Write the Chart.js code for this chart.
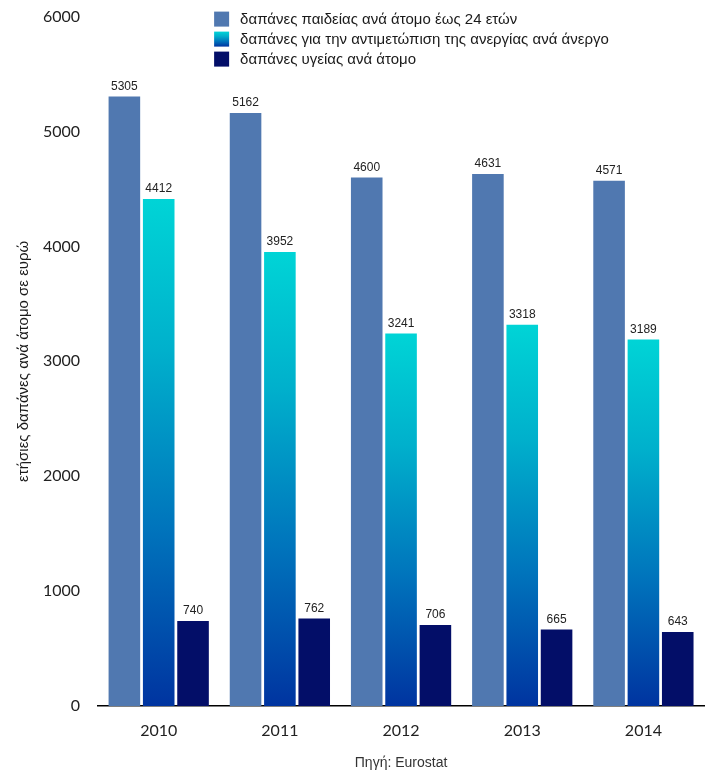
<!DOCTYPE html>
<html>
<head>
<meta charset="utf-8">
<script src="https://cdn.jsdelivr.net/npm/chart.js@4.4.1/dist/chart.umd.min.js"></script>
<style>
  html, body { margin: 0; padding: 0; background: #fff; }
  #wrap { width: 714px; height: 780px; position: relative; }
</style>
</head>
<body>
<div id="wrap"><canvas id="spendChart"></canvas></div>
<script>
const years = ['2010', '2011', '2012', '2013', '2014'];
const educationPerPerson = [5305, 5162, 4600, 4631, 4571];
const unemploymentPerUnemployed = [4412, 3952, 3241, 3318, 3189];
const healthPerPerson = [740, 762, 706, 665, 643];
const yTicks = [0, 1000, 2000, 3000, 4000, 5000, 6000];

const seriesNames = [
  'δαπάνες παιδείας ανά άτομο έως 24 ετών',
  'δαπάνες για την αντιμετώπιση της ανεργίας ανά άνεργο',
  'δαπάνες υγείας ανά άτομο'
];

const tickFont = "Lato, 'Liberation Sans', sans-serif";
const textFont = "'Liberation Sans', Arial, sans-serif";

function cyanBlue(ctx, top, bottom) {
  const g = ctx.createLinearGradient(0, top, 0, bottom);
  g.addColorStop(0, '#00d4d6');
  g.addColorStop(0.3, '#00b0cc');
  g.addColorStop(0.65, '#0074bc');
  g.addColorStop(1, '#0034a0');
  return g;
}

// gradient per bar: cyan at the top, deep blue at the base
function barGradient(context) {
  const chart = context.chart;
  if (!chart.chartArea || context.type !== 'data') return '#0090c8';
  const y = chart.scales.y;
  return cyanBlue(chart.ctx, y.getPixelForValue(context.raw), y.getPixelForValue(0));
}

// values above the bars
const valueLabels = {
  id: 'valueLabels',
  afterDatasetsDraw(chart) {
    const ctx = chart.ctx;
    ctx.save();
    ctx.font = '12px ' + textFont;
    ctx.fillStyle = '#222';
    ctx.textAlign = 'center';
    ctx.textBaseline = 'bottom';
    chart.data.datasets.forEach((ds, i) => {
      chart.getDatasetMeta(i).data.forEach((bar, j) => {
        ctx.fillText(ds.data[j], bar.x, bar.y - 4);
      });
    });
    ctx.restore();
  }
};

// legend drawn over the plot, top middle
const plotLegend = {
  id: 'plotLegend',
  afterDraw(chart) {
    const ctx = chart.ctx;
    const x0 = chart.chartArea.left + 116;
    const y0 = chart.chartArea.top - 5;
    ctx.save();
    ctx.font = '15px ' + textFont;
    ctx.textBaseline = 'middle';
    ctx.textAlign = 'left';
    chart.data.datasets.forEach((ds, i) => {
      const top = y0 + i * 20;
      ctx.fillStyle = i === 1 ? cyanBlue(ctx, top, top + 15) : ds.backgroundColor;
      ctx.fillRect(x0, top, 15, 15);
      ctx.fillStyle = '#1a1a1a';
      ctx.fillText(ds.label, x0 + 26, top + 8);
    });
    ctx.restore();
  }
};

new Chart(document.getElementById('spendChart'), {
  type: 'bar',
  data: {
    labels: years,
    datasets: [
      { label: seriesNames[0], data: educationPerPerson, backgroundColor: '#5078b0' },
      { label: seriesNames[1], data: unemploymentPerUnemployed, backgroundColor: barGradient },
      { label: seriesNames[2], data: healthPerPerson, backgroundColor: '#030e68' }
    ]
  },
  options: {
    responsive: true,
    maintainAspectRatio: false,
    animation: false,
    categoryPercentage: 0.85,
    barPercentage: 0.92,
    layout: { padding: { top: 0, right: 10, left: 15, bottom: 8 } },
    plugins: {
      legend: { display: false },
      tooltip: { enabled: false }
    },
    scales: {
      x: {
        grid: { display: false, drawTicks: false },
        border: { display: true, color: '#000', width: 1.5 },
        ticks: { font: { family: tickFont, size: 16 }, color: '#222', padding: 15 },
        title: {
          display: true,
          text: 'Πηγή: Eurostat',
          font: { family: textFont, size: 14 },
          color: '#333',
          padding: { top: 0, bottom: 0 }
        }
      },
      y: {
        min: 0,
        max: 6000,
        afterBuildTicks(axis) { axis.ticks = yTicks.map(v => ({ value: v })); },
        grid: { display: false, drawTicks: true, tickLength: 11 },
        border: { display: false },
        ticks: {
          font: { family: tickFont, size: 16 },
          color: '#222',
          padding: 7,
          callback: v => String(v)
        },
        title: {
          display: true,
          text: 'ετήσιες δαπάνες ανά άτομο σε ευρώ',
          font: { family: textFont, size: 15 },
          color: '#1a1a1a',
          padding: { top: 0, bottom: 3 }
        }
      }
    }
  },
  plugins: [valueLabels, plotLegend]
});
</script>
</body>
</html>
